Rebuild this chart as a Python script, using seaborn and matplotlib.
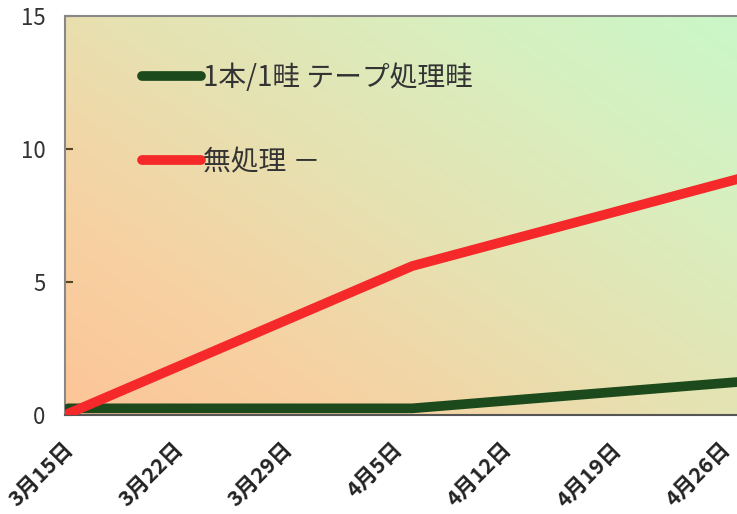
import numpy as np
import pandas as pd
import matplotlib
matplotlib.use("Agg")
import matplotlib.pyplot as plt
from matplotlib.colors import LinearSegmentedColormap
from matplotlib.transforms import ScaledTranslation
import seaborn as sns

# Survey dates and cumulative counts per treatment
dates = ["2000-03-15", "2000-04-06", "2000-04-27"]
tape_treated = [0.25, 0.25, 1.25]
untreated = [0.05, 5.6, 8.9]
series_names = ["1本/1畦 テープ処理畦", "無処理 －"]
series_colors = ["#1d4a1c", "#f5282a"]

tick_labels = ["3月15日", "3月22日", "3月29日", "4月5日", "4月12日", "4月19日", "4月26日"]
y_ticks = [0, 5, 10, 15]

start = pd.Timestamp("2000-03-15")
days = [(pd.Timestamp(d) - start).days for d in dates]

df = pd.concat([
    pd.DataFrame({"day": days, "value": tape_treated, "series": series_names[0]}),
    pd.DataFrame({"day": days, "value": untreated, "series": series_names[1]}),
])

sns.set_theme(style="white")
plt.rcParams["font.family"] = ["Noto Sans CJK JP", "DejaVu Sans"]

fig = plt.figure(figsize=(7.37, 5.14), dpi=100)
ax = fig.add_axes([65 / 737, 99 / 514, 696 / 737, 399 / 514])

# Diagonal orange-to-green wash behind the plot
gx, gy = np.meshgrid(np.linspace(0, 1, 200), np.linspace(0, 1, 200))
grad = (gx * 0.55 + gy * 0.45)
cmap = LinearSegmentedColormap.from_list(
    "wash", [(0.0, "#fdc598"), (0.25, "#f6d2a3"), (0.5, "#e6e2b2"),
             (0.75, "#d8efbf"), (1.0, "#c9f8c9")])
ax.imshow(grad, origin="lower", extent=[0, 1, 0, 1], transform=ax.transAxes,
          cmap=cmap, aspect="auto", zorder=0, interpolation="bilinear")

sns.lineplot(data=df, x="day", y="value", hue="series",
             palette=dict(zip(series_names, series_colors)),
             linewidth=7, ax=ax, zorder=3, legend=True)

ax.set_xlim(-0.2, 44.3)
ax.set_ylim(0, 15)
ax.set_xlabel("")
ax.set_ylabel("")

ax.set_xticks([7 * i for i in range(len(tick_labels))])
ax.set_xticklabels(tick_labels, rotation=45, ha="right", va="top",
                   rotation_mode="anchor", fontweight="bold", fontsize=15.5,
                   color="#222222")
ax.tick_params(axis="x", length=0, pad=17)
shift = ScaledTranslation(-4 / 72, 0, fig.dpi_scale_trans)
for lbl in ax.get_xticklabels():
    lbl.set_transform(lbl.get_transform() + shift)

ax.set_yticks(y_ticks)
ax.set_yticklabels([str(v) for v in y_ticks], fontsize=16, color="#333333")
ax.tick_params(axis="y", direction="in", length=6, width=1.5,
               color="#554422", pad=14, left=True)

for side in ["top", "left"]:
    ax.spines[side].set_color("#888888")
    ax.spines[side].set_linewidth(1.5)
ax.spines["bottom"].set_color("#555555")
ax.spines["bottom"].set_linewidth(1.5)
ax.spines["right"].set_visible(False)

handles, labels = ax.get_legend_handles_labels()
leg = ax.legend(handles, labels, loc="upper left",
                bbox_to_anchor=(0.075, 0.945), frameon=False,
                fontsize=20, handlelength=2.1, handletextpad=0.1,
                labelspacing=1.95)
for line in leg.get_lines():
    line.set_linewidth(7)
for txt in leg.get_texts():
    txt.set_color("#333333")

fig.savefig("out.png", dpi=100)
